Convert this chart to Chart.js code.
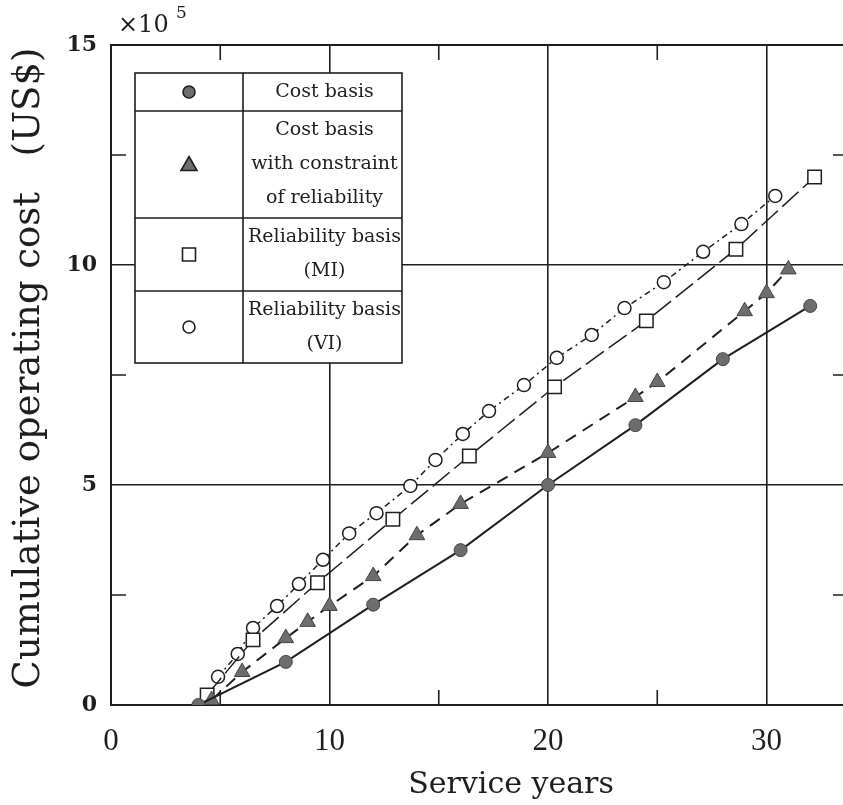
<!DOCTYPE html>
<html>
<head>
<meta charset="utf-8">
<script src="https://cdn.jsdelivr.net/npm/chart.js@4.4.0/dist/chart.umd.min.js"></script>
<style>
  html, body { margin: 0; padding: 0; background: #fff; overflow: hidden; }
  /* a little wider than the window: the figure's right edge is cut off */
  #wrap { width: 854px; height: 805px; }
</style>
</head>
<body>
<div id="wrap"><canvas id="cost-chart"></canvas></div>
<script>
// Values (service years vs. cumulative cost, x1e5 US$)
const costX = [4, 8, 12, 16, 20, 24, 28, 32];
const costY = [0, 0.98, 2.28, 3.52, 5.0, 6.36, 7.86, 9.07];

const constrX = [4.6, 6, 8, 9, 10, 12, 14, 16, 20, 24, 25, 29, 30, 31];
const constrY = [0.11, 0.75, 1.52, 1.89, 2.25, 2.93, 3.86, 4.57, 5.73, 7.0, 7.34, 8.95, 9.36, 9.9];

const miX = [4.4, 6.5, 9.45, 12.9, 16.4, 20.3, 24.5, 28.6, 32.2];
const miY = [0.23, 1.48, 2.78, 4.22, 5.66, 7.23, 8.73, 10.36, 12.0];

const viX = [4.9, 5.8, 6.5, 7.6, 8.6, 9.7, 10.9, 12.15, 13.7, 14.85, 16.1, 17.3, 18.9, 20.4, 22.0, 23.5, 25.3, 27.1, 28.85, 30.4];
const viY = [0.64, 1.16, 1.75, 2.25, 2.75, 3.3, 3.9, 4.36, 4.98, 5.57, 6.16, 6.68, 7.27, 7.89, 8.41, 9.02, 9.61, 10.3, 10.93, 11.57];

const xMajor = [0, 10, 20, 30];
const xMinor = [5, 15, 25];
const yMajor = [0, 5, 10, 15];
const yMinor = [2.5, 7.5, 12.5];

const legendRows = [
  ['Cost basis'],
  ['Cost basis', 'with constraint', 'of reliability'],
  ['Reliability basis', '(MI)'],
  ['Reliability basis', '(VI)']
];
const legendSymbols = ['dot', 'triangle', 'square', 'ring'];

const xTitle = 'Service years';
const yTitle = 'Cumulative operating cost   (US$)';

const INK = '#1e1e1e';
const FILL = '#6d6d6d';
const SERIF = '"DejaVu Serif", "Liberation Serif", serif';

function pts(xs, ys) {
  return xs.map((x, i) => ({ x: x, y: ys[i] }));
}

// Draw a legend symbol by hand
function drawSymbol(ctx, kind, x, y) {
  ctx.save();
  ctx.lineWidth = 1.6;
  ctx.strokeStyle = INK;
  ctx.beginPath();
  if (kind === 'dot') {
    ctx.arc(x, y, 6, 0, Math.PI * 2);
    ctx.fillStyle = FILL;
    ctx.fill();
    ctx.stroke();
  } else if (kind === 'triangle') {
    ctx.moveTo(x, y - 8);
    ctx.lineTo(x + 8, y + 6);
    ctx.lineTo(x - 8, y + 6);
    ctx.closePath();
    ctx.fillStyle = FILL;
    ctx.fill();
    ctx.stroke();
  } else if (kind === 'square') {
    ctx.rect(x - 6.5, y - 6.5, 13, 13);
    ctx.fillStyle = '#fff';
    ctx.fill();
    ctx.stroke();
  } else {
    ctx.arc(x, y, 6, 0, Math.PI * 2);
    ctx.fillStyle = '#fff';
    ctx.fill();
    ctx.stroke();
  }
  ctx.restore();
}

const decorations = {
  id: 'decorations',
  beforeDatasetsDraw(chart) {
    const { ctx, chartArea: a, scales: { x, y } } = chart;
    ctx.save();
    ctx.strokeStyle = INK;
    ctx.lineWidth = 2;
    // frame: left, top, bottom (right side is cut off in the figure)
    ctx.beginPath();
    ctx.moveTo(a.right, a.top);
    ctx.lineTo(a.left, a.top);
    ctx.lineTo(a.left, a.bottom);
    ctx.lineTo(a.right, a.bottom);
    ctx.stroke();
    // minor ticks pointing inwards
    ctx.lineWidth = 1.6;
    ctx.beginPath();
    xMinor.forEach(v => {
      const px = x.getPixelForValue(v);
      ctx.moveTo(px, a.bottom); ctx.lineTo(px, a.bottom - 15);
      ctx.moveTo(px, a.top); ctx.lineTo(px, a.top + 15);
    });
    yMinor.forEach(v => {
      const py = y.getPixelForValue(v);
      ctx.moveTo(a.left, py); ctx.lineTo(a.left + 15, py);
      ctx.moveTo(a.right, py); ctx.lineTo(a.right - 10, py);
    });
    ctx.stroke();
    ctx.restore();
  },
  afterDatasetsDraw(chart) {
    const ctx = chart.ctx;
    // legend table
    const left = 135, mid = 243, right = 402;
    const rowEdges = [73, 111, 218, 291, 363];
    ctx.save();
    ctx.fillStyle = '#fff';
    ctx.fillRect(left, rowEdges[0], right - left, rowEdges[4] - rowEdges[0]);
    ctx.strokeStyle = INK;
    ctx.lineWidth = 1.6;
    ctx.strokeRect(left, rowEdges[0], right - left, rowEdges[4] - rowEdges[0]);
    ctx.beginPath();
    ctx.moveTo(mid, rowEdges[0]); ctx.lineTo(mid, rowEdges[4]);
    for (let i = 1; i < 4; i++) {
      ctx.moveTo(left, rowEdges[i]); ctx.lineTo(right, rowEdges[i]);
    }
    ctx.stroke();
    ctx.font = '19px ' + SERIF;
    ctx.fillStyle = INK;
    ctx.textAlign = 'center';
    ctx.textBaseline = 'middle';
    legendRows.forEach((lines, i) => {
      const top = rowEdges[i], bot = rowEdges[i + 1];
      const cy = (top + bot) / 2;
      const step = 34;
      lines.forEach((t, j) => {
        ctx.fillText(t, (mid + right) / 2 + 2, cy + (j - (lines.length - 1) / 2) * step);
      });
      drawSymbol(ctx, legendSymbols[i], (left + mid) / 2, cy);
    });
    ctx.restore();
  },
  afterDraw(chart) {
    const ctx = chart.ctx;
    ctx.save();
    ctx.fillStyle = INK;
    // x10^5 multiplier
    ctx.font = '24px ' + SERIF;
    ctx.textBaseline = 'alphabetic';
    ctx.textAlign = 'left';
    ctx.fillText('\u00d710', 118, 32);
    ctx.font = '17px ' + SERIF;
    ctx.fillText('5', 176, 18);
    // axis titles
    ctx.font = '30px ' + SERIF;
    ctx.textAlign = 'center';
    ctx.textBaseline = 'middle';
    ctx.fillText(xTitle, 511, 785);
    ctx.translate(29, 368);
    ctx.rotate(-Math.PI / 2);
    ctx.font = '37px ' + SERIF;
    ctx.fillText(yTitle, 0, 0);
    ctx.restore();
  }
};

new Chart(document.getElementById('cost-chart'), {
  type: 'scatter',
  data: {
    datasets: [
      {
        label: 'Cost basis',
        data: pts(costX, costY),
        showLine: true,
        borderColor: INK,
        borderWidth: 2,
        pointStyle: 'circle',
        pointRadius: 6.5,
        pointBackgroundColor: FILL,
        pointBorderColor: '#444',
        pointBorderWidth: 1
      },
      {
        label: 'Cost basis with constraint of reliability',
        data: pts(constrX, constrY),
        showLine: true,
        borderColor: INK,
        borderWidth: 2,
        borderDash: [12, 8],
        pointStyle: 'triangle',
        pointRadius: 9,
        pointBackgroundColor: FILL,
        pointBorderColor: '#444',
        pointBorderWidth: 1
      },
      {
        label: 'Reliability basis (MI)',
        data: pts(miX, miY),
        showLine: true,
        borderColor: INK,
        borderWidth: 1.5,
        borderDash: [22, 6],
        pointStyle: 'rect',
        pointRadius: 9.5,
        pointBackgroundColor: '#fff',
        pointBorderColor: INK,
        pointBorderWidth: 1.5
      },
      {
        label: 'Reliability basis (VI)',
        data: pts(viX, viY),
        showLine: true,
        borderColor: INK,
        borderWidth: 1.5,
        borderDash: [6, 4, 2, 4],
        pointStyle: 'circle',
        pointRadius: 6.5,
        pointBackgroundColor: '#fff',
        pointBorderColor: INK,
        pointBorderWidth: 1.5
      }
    ]
  },
  options: {
    responsive: true,
    maintainAspectRatio: false,
    animation: false,
    layout: { padding: { top: 45, right: 0, left: 0, bottom: 0 } },
    plugins: {
      legend: { display: false },
      tooltip: { enabled: false }
    },
    scales: {
      x: {
        type: 'linear',
        min: 0,
        max: 33.5,
        afterFit: s => { s.height = 100; },
        border: { display: false },
        grid: {
          drawTicks: false,
          lineWidth: 1.6,
          color: c => (c.tick && c.tick.value > 0 && xMajor.includes(c.tick.value)) ? INK : 'transparent'
        },
        afterBuildTicks: s => { s.ticks = xMajor.map(v => ({ value: v })); },
        ticks: {
          color: INK,
          padding: 18,
          font: { family: '"Liberation Serif", serif', size: 31 },
          callback: v => String(v)
        }
      },
      y: {
        type: 'linear',
        min: 0,
        max: 15,
        afterFit: s => { s.width = 111; },
        border: { display: false },
        grid: {
          drawTicks: false,
          lineWidth: 1.6,
          color: c => (c.tick && c.tick.value > 0 && c.tick.value < 15) ? INK : 'transparent'
        },
        afterBuildTicks: s => { s.ticks = yMajor.map(v => ({ value: v })); },
        ticks: {
          color: INK,
          padding: 14,
          font: { family: SERIF, size: 22, weight: 'bold' },
          callback: v => String(v)
        }
      }
    }
  },
  plugins: [decorations]
});
</script>
</body>
</html>
